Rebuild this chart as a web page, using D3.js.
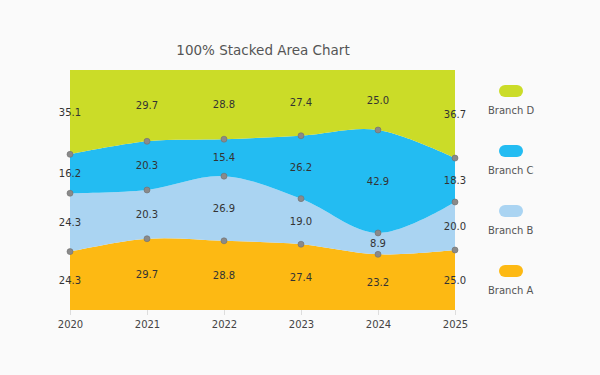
<!DOCTYPE html>
<html>
<head>
<meta charset="utf-8">
<script src="https://cdn.jsdelivr.net/npm/d3@7"></script>
<style>
  body { margin: 0; background: #fafafa; }
  svg { font-family: "DejaVu Sans", Verdana, sans-serif; }
</style>
</head>
<body>
<script>
(function () {
    //chart data
    var years = ["2020", "2021", "2022", "2023", "2024", "2025"];
    var branchA = [24.3, 29.7, 28.8, 27.4, 23.2, 25.0];
    var branchB = [24.3, 20.3, 26.9, 19.0, 8.9, 20.0];
    var branchC = [16.2, 20.3, 15.4, 26.2, 42.9, 18.3];
    var branchD = [35.1, 29.7, 28.8, 27.4, 25.0, 36.7];
    var seriesNames = ["Branch A", "Branch B", "Branch C", "Branch D"];
    var seriesColors = ["#fdb913", "#aad4f2", "#23bcf2", "#cbdc28"];

    var width = 600, height = 375;
    var margin = { left: 70, right: 145, top: 70, bottom: 65 };

    var svg = d3.select("body").append("svg")
        .attr("width", width)
        .attr("height", height);

    svg.append("rect").attr("width", width).attr("height", height).attr("fill", "#fafafa");

    //build table rows for the stack
    var rows = years.map(function (y, i) {
        return { year: y, a: branchA[i], b: branchB[i], c: branchC[i], d: branchD[i] };
    });
    var keys = ["a", "b", "c", "d"];

    var stack = d3.stack().keys(keys).offset(d3.stackOffsetExpand);
    var layers = stack(rows);

    var x = d3.scalePoint().domain(years).range([margin.left, width - margin.right]);
    var y = d3.scaleLinear().domain([0, 1]).range([height - margin.bottom, margin.top]);

    var area = d3.area()
        .x(function (d) { return x(d.data.year); })
        .y0(function (d) { return y(d[0]); })
        .y1(function (d) { return y(d[1]); })
        .curve(d3.curveCardinal.tension(0));

    svg.append("clipPath").attr("id", "plotClip")
        .append("rect")
        .attr("x", margin.left).attr("y", margin.top)
        .attr("width", width - margin.left - margin.right)
        .attr("height", height - margin.top - margin.bottom);

    var plot = svg.append("g").attr("clip-path", "url(#plotClip)");

    plot.selectAll(".layer")
        .data(layers)
        .enter()
        .append("path")
        .attr("class", "layer")
        .attr("fill", function (d, i) { return seriesColors[i]; })
        .attr("d", area);

    //x axis
    var axis = svg.append("g")
        .attr("transform", "translate(0," + (height - margin.bottom) + ")")
        .call(d3.axisBottom(x).tickSize(5).tickPadding(6));
    axis.select(".domain").remove();
    axis.selectAll("line").attr("stroke", "#ddd");
    axis.selectAll("text").attr("fill", "#444").style("font-size", "10px")
        .style("font-family", "DejaVu Sans, Verdana, sans-serif");

    //points on the boundaries (not the top edge)
    layers.slice(0, 3).forEach(function (layer) {
        svg.selectAll(null)
            .data(layer)
            .enter()
            .append("circle")
            .attr("cx", function (d) { return x(d.data.year); })
            .attr("cy", function (d) { return y(d[1]); })
            .attr("r", 3)
            .attr("fill", "#8a8a8a")
            .attr("stroke", "#6e6e6e")
            .attr("stroke-width", 0.6);
    });

    //value labels in the middle of each band
    layers.forEach(function (layer) {
        svg.selectAll(null)
            .data(layer)
            .enter()
            .append("text")
            .attr("x", function (d) { return x(d.data.year); })
            .attr("y", function (d) { return y((d[0] + d[1]) / 2); })
            .attr("dy", "0.35em")
            .attr("text-anchor", "middle")
            .attr("fill", "#333")
            .style("font-size", "10px")
            .text(function (d) { return d.data[layer.key].toFixed(1); });
    });

    //title
    svg.append("text")
        .attr("x", 263)
        .attr("y", 55)
        .attr("text-anchor", "middle")
        .attr("fill", "#555")
        .style("font-size", "13.5px")
        .text("100% Stacked Area Chart");

    //legend, top to bottom D..A
    var legend = svg.selectAll(".legend")
        .data(seriesNames.slice().reverse())
        .enter()
        .append("g")
        .attr("class", "legend")
        .attr("transform", function (d, i) { return "translate(499," + (85 + i * 60) + ")"; });

    legend.append("rect")
        .attr("width", 24)
        .attr("height", 12)
        .attr("rx", 6)
        .attr("fill", function (d, i) { return seriesColors[3 - i]; });

    legend.append("text")
        .attr("x", -11)
        .attr("y", 29)
        .attr("fill", "#555")
        .style("font-size", "10px")
        .text(function (d) { return d; });
})();
</script>
</body>
</html>
